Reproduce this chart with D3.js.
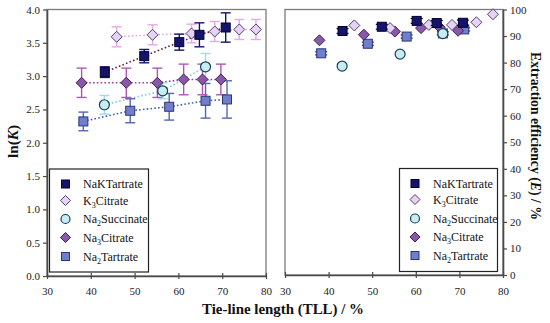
<!DOCTYPE html>
<html><head><meta charset="utf-8">
<script src="https://cdn.jsdelivr.net/npm/d3@7"></script>
<style>body{margin:0;background:#fff}svg{display:block}text{font-family:"Liberation Serif","DejaVu Serif",serif}</style>
</head><body>
<svg id="c" width="550" height="323"></svg>
<script>
// ---------- data ----------
const seriesNames = ["NaKTartrate","K3Citrate","Na2Succinate","Na3Citrate","Na2Tartrate"];
const xTicks = [30,40,50,60,70,80];
const lnKTicks = [0,0.5,1,1.5,2,2.5,3,3.5,4];
const effTicks = [0,10,20,30,40,50,60,70,80,90,100];

const nakTLL  = [43.2, 52.2, 60.2, 64.8, 70.8];
const nakLnK  = [3.06, 3.30, 3.51, 3.62, 3.73];
const nakErr  = [0.08, 0.10, 0.12, 0.18, 0.22];
const nakEff  = [91.9, 93.5, 95.7, 94.9, 95.0];
const nakEffErr = [0.9, 0.9, 0.9, 0.9, 1.0];

const k3TLL   = [45.9, 54.1, 63.0, 68.3, 73.9, 77.7];
const k3LnK   = [3.59, 3.62, 3.64, 3.67, 3.70, 3.70];
const k3Err   = [0.15, 0.15, 0.14, 0.15, 0.15, 0.15];
const k3Eff   = [94.0, 93.0, 94.2, 94.2, 95.2, 98.2];

const suTLL   = [43.1, 56.4, 66.2];
const suLnK   = [2.57, 2.78, 3.14];
const suErr   = [0.14, 0.12, 0.20];
const suEff   = [78.7, 83.2, 90.9];

const n3TLL   = [37.9, 48.1, 55.2, 61.2, 65.5, 69.7];
const n3LnK   = [2.90, 2.90, 2.90, 2.95, 2.95, 2.95];
const n3Err   = [0.22, 0.22, 0.22, 0.23, 0.23, 0.23];
const n3Eff   = [88.4, 90.5, 91.7, 93.0, 93.3, 92.0];

const n2TLL   = [38.3, 49.0, 57.9, 66.2, 71.1];
const n2LnK   = [2.32, 2.48, 2.54, 2.63, 2.65];
const n2Err   = [0.14, 0.18, 0.20, 0.26, 0.28];
const n2Eff   = [83.5, 87.1, 89.8, 91.0, 92.5];
const n2EffErr = [0.6, 0.6, 0.6, 0.6, 0.6];

// ---------- styles ----------
const FONT = "'Liberation Serif','DejaVu Serif',serif";
const S = {
  NaKTartrate: {shape:"square", fill:"#14146a", stroke:"#000033", err:"#14146a", line:"#6a2232", size:9},
  K3Citrate:   {shape:"diamond", fill:"#e4d4f4", stroke:"#5a3a7a", err:"#e6a8e6", line:"#e0a8e0", size:11},
  Na2Succinate:{shape:"circle", fill:"#c6ecf4", stroke:"#1f3f4f", err:"#9ddcee", line:"#80c8e4", size:11},
  Na3Citrate:  {shape:"diamond", fill:"#8a58a8", stroke:"#3e1f55", err:"#b055b8", line:"#a03aa6", size:11},
  Na2Tartrate: {shape:"square", fill:"#6f7fcc", stroke:"#2c3478", err:"#5565b5", line:"#4b5cb0", size:9}
};
const series = [
  {name:"Na2Tartrate", x:n2TLL, k:n2LnK, ke:n2Err, e:n2Eff, ee:n2EffErr},
  {name:"Na3Citrate", x:n3TLL, k:n3LnK, ke:n3Err, e:n3Eff, ee:null},
  {name:"Na2Succinate", x:suTLL, k:suLnK, ke:suErr, e:suEff, ee:null},
  {name:"K3Citrate", x:k3TLL, k:k3LnK, ke:k3Err, e:k3Eff, ee:null},
  {name:"NaKTartrate", x:nakTLL, k:nakLnK, ke:nakErr, e:nakEff, ee:nakEffErr}
];

const svg = d3.select("#c");
const xL = d3.scaleLinear().domain([30,80]).range([47,266]);
const yL = d3.scaleLinear().domain([0,4]).range([276,9.5]);
const xR = d3.scaleLinear().domain([30,80]).range([285,503]);
const yR = d3.scaleLinear().domain([0,100]).range([275,9.5]);

function marker(g, shape, cx, cy, size, st){
  if(shape==="square"){
    g.append("rect").attr("x",cx-size/2).attr("y",cy-size/2).attr("width",size).attr("height",size)
     .attr("fill",st.fill).attr("stroke",st.stroke).attr("stroke-width",1);
  } else if(shape==="diamond"){
    const r=size/2;
    g.append("path").attr("d",`M${cx},${cy-r}L${cx+r},${cy}L${cx},${cy+r}L${cx-r},${cy}Z`)
     .attr("fill",st.fill).attr("stroke",st.stroke).attr("stroke-width",1);
  } else {
    g.append("circle").attr("cx",cx).attr("cy",cy).attr("r",size/2-0.5)
     .attr("fill",st.fill).attr("stroke",st.stroke).attr("stroke-width",1.2);
  }
}

// frames
function frame(x0,x1,y0,y1){
  svg.append("rect").attr("x",x0).attr("y",y0).attr("width",x1-x0).attr("height",y1-y0)
    .attr("fill","none").attr("stroke","#7a7a7a").attr("stroke-width",1.3);
}
frame(47,266,9.5,276);
frame(285,503,9.5,275);

// axes
function styleAxis(g){
  g.attr("font-family",FONT).attr("font-size",11);
  g.select(".domain").attr("stroke","#4a4a4a").attr("stroke-width",1.6);
  g.selectAll(".tick line").attr("stroke","#4a4a4a").attr("stroke-width",1.2);
  g.selectAll(".tick text").attr("fill","#222").style("font-size","11px").style("font-family",FONT);
}
const axL = svg.append("g").attr("transform","translate(47,0)")
  .call(d3.axisLeft(yL).tickValues(lnKTicks).tickFormat(d3.format(".1f")).tickSize(4).tickSizeOuter(0).tickPadding(3));
styleAxis(axL);
const axBL = svg.append("g").attr("transform","translate(0,276)")
  .call(d3.axisBottom(xL).tickValues(xTicks).tickFormat(d3.format("d")).tickSize(3).tickSizeOuter(0).tickPadding(8));
axBL.selectAll(".tick line").attr("y1",-3);
styleAxis(axBL);
const axR = svg.append("g").attr("transform","translate(503,0)")
  .call(d3.axisRight(yR).tickValues(effTicks).tickFormat(d3.format("d")).tickSize(4).tickSizeOuter(0).tickPadding(3));
styleAxis(axR);
const axBR = svg.append("g").attr("transform","translate(0,275)")
  .call(d3.axisBottom(xR).tickValues(xTicks).tickFormat(d3.format("d")).tickSize(3).tickSizeOuter(0).tickPadding(9));
axBR.selectAll(".tick line").attr("y1",-3);
styleAxis(axBR);

// left panel: dotted lines
const line = d3.line();
series.forEach(s=>{
  const st=S[s.name];
  svg.append("path").attr("d", line(s.x.map((v,i)=>[xL(v), yL(s.k[i])])))
    .attr("fill","none").attr("stroke",st.line).attr("stroke-width",1.6).attr("stroke-dasharray","1.6,2.2");
});
// error bars left
series.forEach(s=>{
  const st=S[s.name];
  const g=svg.append("g").attr("stroke",st.err).attr("stroke-width",1.4);
  s.x.forEach((v,i)=>{
    const cx=xL(v), y1=yL(s.k[i]-s.ke[i]), y2=yL(s.k[i]+s.ke[i]);
    g.append("line").attr("x1",cx).attr("x2",cx).attr("y1",y1).attr("y2",y2);
    g.append("line").attr("x1",cx-5).attr("x2",cx+5).attr("y1",y1).attr("y2",y1);
    g.append("line").attr("x1",cx-5).attr("x2",cx+5).attr("y1",y2).attr("y2",y2);
  });
});
// markers left
series.forEach(s=>{
  const st=S[s.name]; const g=svg.append("g");
  s.x.forEach((v,i)=>marker(g, st.shape, xL(v), yL(s.k[i]), st.size, st));
});

// right panel
series.forEach(s=>{
  const st=S[s.name];
  if(s.ee){
    const g=svg.append("g").attr("stroke",st.stroke).attr("stroke-width",1.2);
    s.x.forEach((v,i)=>{
      const cx=xR(v), y1=yR(s.e[i]-s.ee[i]), y2=yR(s.e[i]+s.ee[i]);
      g.append("line").attr("x1",cx).attr("x2",cx).attr("y1",y1).attr("y2",y2);
      g.append("line").attr("x1",cx-6).attr("x2",cx+6).attr("y1",y1).attr("y2",y1);
      g.append("line").attr("x1",cx-6).attr("x2",cx+6).attr("y1",y2).attr("y2",y2);
    });
  }
  const g=svg.append("g");
  s.x.forEach((v,i)=>marker(g, st.shape, xR(v), yR(s.e[i]), st.size, st));
});

// legends
const legendLabels = {
  NaKTartrate:[["NaKTartrate",0]],
  K3Citrate:[["K",0],["3",1],["Citrate",2]],
  Na2Succinate:[["Na",0],["2",1],["Succinate",2]],
  Na3Citrate:[["Na",0],["3",1],["Citrate",2]],
  Na2Tartrate:[["Na",0],["2",1],["Tartrate",2]]
};
function legend(x0,y0,w,h,mx,tx,rows){
  svg.append("rect").attr("x",x0).attr("y",y0).attr("width",w).attr("height",h)
    .attr("fill","#fff").attr("stroke","#222").attr("stroke-width",1.2);
  seriesNames.forEach((n,i)=>{
    const st=S[n]; const cy=rows[i];
    marker(svg, st.shape, mx, cy, st.shape==="square"?8:10, st);
    const t=svg.append("text").attr("x",tx).attr("y",cy+4).style("font-size","12px")
      .style("font-family",FONT).attr("fill","#111");
    legendLabels[n].forEach(([txt,kind])=>{
      const ts=t.append("tspan").text(txt);
      if(kind===1) ts.attr("dy",3).style("font-size","8px");
      else if(kind===2) ts.attr("dy",-3);
    });
  });
}
legend(49.5,169,99,103,65.5,83,[184,200.5,219,237.5,256.5]);
legend(399.5,168.5,98,103,415,433,[183.5,199.5,218.5,237,255.5]);

// titles
svg.append("text").attr("x",283).attr("y",314).attr("text-anchor","middle")
  .attr("textLength",162).attr("lengthAdjust","spacingAndGlyphs")
  .style("font-size","14.5px").style("font-weight","bold").style("font-family",FONT).attr("fill","#111")
  .text("Tie-line length (TLL) / %");
const tl=svg.append("text").attr("transform","translate(17.5,141.5) rotate(-90)").attr("text-anchor","middle")
  .attr("textLength",33).attr("lengthAdjust","spacingAndGlyphs")
  .style("font-size","15px").style("font-weight","bold").style("font-family",FONT).attr("fill","#111");
tl.append("tspan").text("ln(");
tl.append("tspan").style("font-style","italic").text("K");
tl.append("tspan").text(")");
const tr=svg.append("text").attr("transform","translate(530.5,136) rotate(90)").attr("text-anchor","middle")
  .attr("textLength",168).attr("lengthAdjust","spacingAndGlyphs")
  .style("font-size","14px").style("font-weight","bold").style("font-family",FONT).attr("fill","#111");
tr.append("tspan").text("Extraction efficiency (");
tr.append("tspan").style("font-style","italic").text("E");
tr.append("tspan").text(") / %");
</script>
</body></html>
